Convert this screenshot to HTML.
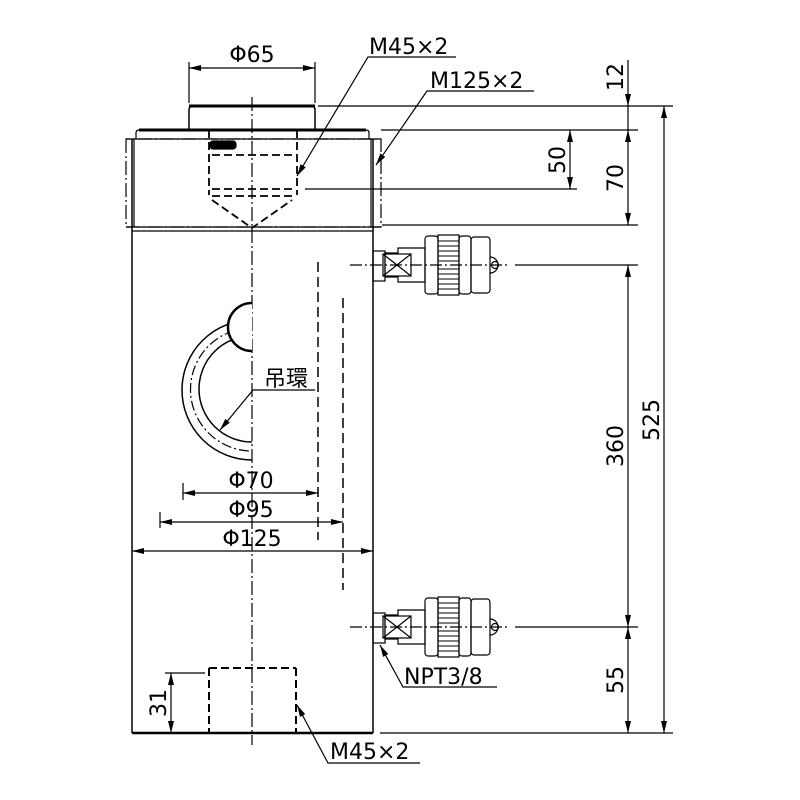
<!DOCTYPE html>
<html><head><meta charset="utf-8"><style>
html,body{margin:0;padding:0;background:#fff}
svg{display:block}
text{font-family:"DejaVu Sans","Liberation Sans","Noto Sans CJK JP",sans-serif;font-size:22px;fill:#000}
</style></head><body>
<svg width="800" height="800" viewBox="0 0 800 800" xmlns="http://www.w3.org/2000/svg">
<defs>
<marker id="a" viewBox="0 0 12 6" refX="12" refY="3" markerWidth="12" markerHeight="6" orient="auto-start-reverse" markerUnits="userSpaceOnUse"><path d="M0,0 L12,3 L0,6z" fill="#000"/></marker>
</defs>
<g stroke="#000" fill="none" stroke-width="1.2">
<line x1="252" y1="97" x2="252" y2="745" stroke-dasharray="14,3,2,3"/>
<path d="M189,130 V110 Q189,106 193,106 H311 Q315,106 315,110 V130" stroke-width="1.5"/>
<line x1="189" y1="106" x2="315" y2="106" stroke-width="3"/>
<path d="M136,139 V133 Q136,130 139,130 H366 Q369,130 369,133 V139"/>
<line x1="139" y1="130" x2="366" y2="130" stroke-width="3"/>
<path d="M126,139 V227 H381 V139 Z" stroke-dasharray="14,3,2,3"/>
<line x1="126" y1="139" x2="381" y2="139"/>
<line x1="126" y1="227" x2="381" y2="227"/>
<line x1="132" y1="139" x2="132" y2="733" stroke-width="1.5"/>
<line x1="373" y1="139" x2="373" y2="733" stroke-width="1.5"/>
<line x1="134" y1="139" x2="134" y2="227"/>
<line x1="371" y1="139" x2="371" y2="227"/>
<line x1="132" y1="231" x2="373" y2="231"/>
<line x1="132" y1="733" x2="373" y2="733" stroke-width="2.5"/>
<g stroke-dasharray="8,4" stroke-width="1.8">
<line x1="209" y1="130" x2="209" y2="195"/>
<line x1="297" y1="130" x2="297" y2="195"/>
<line x1="212" y1="155" x2="294" y2="155"/>
<line x1="212" y1="189" x2="294" y2="189"/>
<line x1="212" y1="196" x2="294" y2="196"/>
<path d="M212,200 L252,228 L292,200"/>
</g>
<rect x="210" y="141" width="26" height="8" rx="3" fill="#000"/>
<g stroke-dasharray="8,4" stroke-width="2">
<line x1="209" y1="668" x2="209" y2="733"/>
<line x1="296" y1="668" x2="296" y2="733"/>
<line x1="209" y1="668" x2="296" y2="668"/>
</g>
<line x1="318" y1="262" x2="318" y2="540" stroke-dasharray="10,5" stroke-width="1.5"/>
<line x1="343" y1="298" x2="343" y2="590" stroke-dasharray="10,5" stroke-width="1.5"/>
<path d="M252,320 A70,70 0 0 0 252,460" stroke-width="1.5"/>
<path d="M252,336 A52,52 0 0 0 252,442" stroke-width="1.5"/>
<path d="M252,328 A61,61 0 0 0 252,451" stroke-dasharray="10,3,2,3"/>
<path d="M252,303 A24,24 0 0 0 252,351 Z" fill="#fff" stroke="none"/>
<path d="M252,303 A24,24 0 0 0 252,351" stroke-width="2.5"/>
<g id="port">
<line x1="350" y1="265" x2="510" y2="265" stroke-dasharray="12,3,2,3"/>
<rect x="373" y="251" width="12" height="30"/>
<path d="M385,253 H398 V248 H425 V282 H398 V277 H385 Z"/>
<rect x="383" y="254" width="28" height="22"/>
<line x1="383" y1="254" x2="411" y2="276"/><line x1="383" y1="276" x2="411" y2="254"/>
<rect x="425" y="236" width="13" height="58" rx="3"/>
<rect x="438" y="235" width="21" height="60"/>
<g stroke-width="1">
<line x1="438" y1="241" x2="459" y2="241"/><line x1="438" y1="246" x2="459" y2="246"/><line x1="438" y1="251" x2="459" y2="251"/><line x1="438" y1="256" x2="459" y2="256"/><line x1="438" y1="261" x2="459" y2="261"/><line x1="438" y1="269" x2="459" y2="269"/><line x1="438" y1="274" x2="459" y2="274"/><line x1="438" y1="279" x2="459" y2="279"/><line x1="438" y1="284" x2="459" y2="284"/><line x1="438" y1="289" x2="459" y2="289"/>
</g>
<rect x="459" y="236" width="12" height="58" rx="3"/>
<rect x="471" y="237" width="19" height="56" rx="3"/>
<path d="M490,257 A8,8 0 0 1 490,273"/>
<circle cx="495" cy="265" r="3.5"/>
</g>
<use href="#port" y="362"/>
<line x1="318" y1="106" x2="673" y2="106"/>
<line x1="381" y1="130" x2="638" y2="130"/>
<line x1="305" y1="189" x2="577" y2="189"/>
<line x1="382" y1="225" x2="638" y2="225"/>
<line x1="515" y1="265" x2="638" y2="265"/>
<line x1="515" y1="627" x2="638" y2="627"/>
<line x1="380" y1="733" x2="673" y2="733"/>
<line x1="189" y1="62" x2="189" y2="103"/>
<line x1="315" y1="62" x2="315" y2="103"/>
<line x1="165" y1="673" x2="205" y2="673"/>
<line x1="183" y1="483" x2="183" y2="500"/>
<line x1="160" y1="512" x2="160" y2="528"/>
<line x1="189" y1="68" x2="315" y2="68" marker-start="url(#a)" marker-end="url(#a)"/>
<line x1="628" y1="60" x2="628" y2="106" marker-end="url(#a)"/>
<line x1="628" y1="106" x2="628" y2="130"/>
<line x1="628" y1="130" x2="628" y2="225" marker-start="url(#a)" marker-end="url(#a)"/>
<line x1="570" y1="130" x2="570" y2="189" marker-start="url(#a)" marker-end="url(#a)"/>
<line x1="664" y1="106" x2="664" y2="733" marker-start="url(#a)" marker-end="url(#a)"/>
<line x1="628" y1="265" x2="628" y2="627" marker-start="url(#a)" marker-end="url(#a)"/>
<line x1="628" y1="627" x2="628" y2="733" marker-start="url(#a)" marker-end="url(#a)"/>
<line x1="171" y1="673" x2="171" y2="733" marker-start="url(#a)" marker-end="url(#a)"/>
<line x1="183" y1="493" x2="318" y2="493" marker-start="url(#a)" marker-end="url(#a)"/>
<line x1="160" y1="522" x2="343" y2="522" marker-start="url(#a)" marker-end="url(#a)"/>
<line x1="132" y1="551" x2="373" y2="551" marker-start="url(#a)" marker-end="url(#a)"/>
<path d="M456,57 H368 L297,176" marker-end="url(#a)"/>
<path d="M534,91 H427 L376,165" marker-end="url(#a)"/>
<path d="M315,390 H253 L220,430" marker-end="url(#a)"/>
<path d="M497,687 H403 L380,645" marker-end="url(#a)"/>
<path d="M420,763 H328 L297,705" marker-end="url(#a)"/>
</g>
<text x="252" y="62" text-anchor="middle">Φ65</text>
<text x="369" y="54">M45×2</text>
<text x="430" y="88">M125×2</text>
<text x="264" y="386" style="font-family:'Noto Sans CJK JP',sans-serif">吊環</text>
<text x="251" y="488" text-anchor="middle">Φ70</text>
<text x="251" y="517" text-anchor="middle">Φ95</text>
<text x="252" y="546" text-anchor="middle">Φ125</text>
<text x="404" y="684">NPT3/8</text>
<text x="330" y="759">M45×2</text>
<g>
<text transform="translate(623,77) rotate(-90)" text-anchor="middle">12</text>
<text transform="translate(565,160) rotate(-90)" text-anchor="middle">50</text>
<text transform="translate(623,178) rotate(-90)" text-anchor="middle">70</text>
<text transform="translate(659,420) rotate(-90)" text-anchor="middle">525</text>
<text transform="translate(623,446) rotate(-90)" text-anchor="middle">360</text>
<text transform="translate(623,680) rotate(-90)" text-anchor="middle">55</text>
<text transform="translate(166,703) rotate(-90)" text-anchor="middle">31</text>
</g>
</svg>
</body></html>
